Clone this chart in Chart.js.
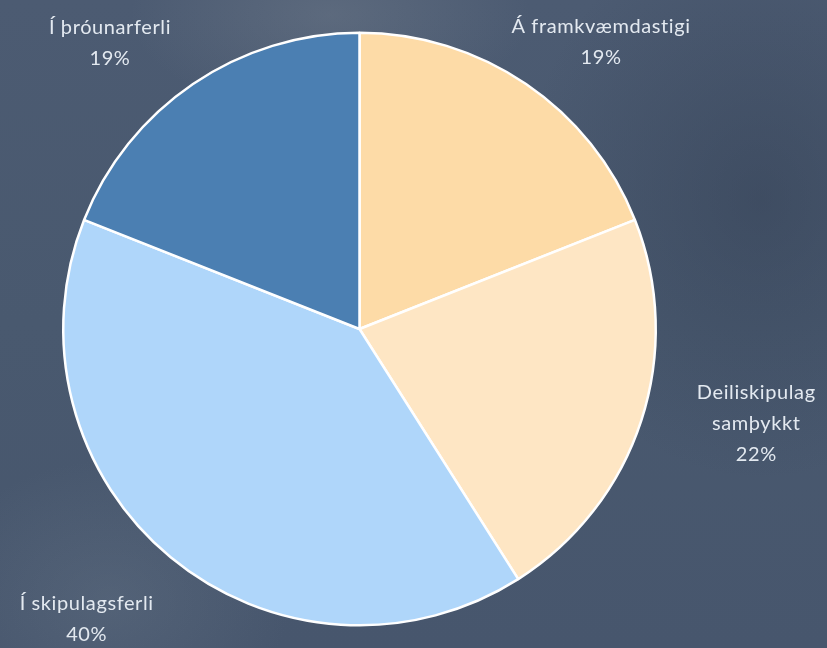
<!DOCTYPE html>
<html>
<head>
<meta charset="utf-8">
<script src="https://cdn.jsdelivr.net/npm/chart.js@4"></script>
<style>
  html, body { margin: 0; padding: 0; }
  body {
    width: 827px; height: 648px; overflow: hidden;
    background:
      radial-gradient(ellipse 200px 100px at 330px 15px, rgba(130,140,152,0.3), rgba(130,140,152,0) 100%),
      radial-gradient(ellipse 180px 140px at 110px 600px, rgba(110,125,142,0.3), rgba(110,125,142,0) 100%),
      radial-gradient(ellipse 240px 280px at 760px 200px, rgba(45,57,77,0.4), rgba(45,57,77,0) 100%),
      linear-gradient(180deg, #4c5b72 0%, #49596f 50%, #47566d 100%);
  }
  #wrap { position: absolute; left: 0; top: 0; width: 827px; height: 648px; }
</style>
</head>
<body>
<div id="wrap"><canvas id="pie_canvas"></canvas></div>
<script>
const labels = ['Á framkvæmdastigi', 'Deiliskipulag samþykkt', 'Í skipulagsferli', 'Í þróunarferli'];
const labelLines = [['Á framkvæmdastigi'], ['Deiliskipulag', 'samþykkt'], ['Í skipulagsferli'], ['Í þróunarferli']];
const values = [19, 22, 40, 19];
const pctLabels = ['19%', '22%', '40%', '19%'];
const colors = ['#fddba7', '#fee6c4', '#afd6fa', '#4b7fb2'];

// label offset from the outer mid point of each slice
const labelOffsets = [[75, -42], [115, 3], [-84, 62], [-83, -41]];

const outsideLabels = {
  id: 'outsideLabels',
  afterDraw(chart) {
    const ctx = chart.ctx;
    const meta = chart.getDatasetMeta(0);
    ctx.save();
    ctx.font = "20px Lato, 'Open Sans', sans-serif";
    ctx.letterSpacing = '0.6px';
    ctx.fillStyle = '#e3e9f0';
    ctx.textAlign = 'center';
    ctx.textBaseline = 'middle';
    const lh = 31;
    meta.data.forEach((arc, i) => {
      const mid = (arc.startAngle + arc.endAngle) / 2;
      const px = arc.x + Math.cos(mid) * arc.outerRadius + labelOffsets[i][0];
      const py = arc.y + Math.sin(mid) * arc.outerRadius + labelOffsets[i][1];
      const lines = labelLines[i].concat([pctLabels[i]]);
      const top = py - (lines.length - 1) * lh / 2;
      lines.forEach((t, k) => ctx.fillText(t, px, top + k * lh));
    });
    ctx.restore();
  }
};

new Chart(document.getElementById('pie_canvas'), {
  type: 'pie',
  data: {
    labels: labels,
    datasets: [{
      data: values,
      backgroundColor: colors,
      borderColor: '#ffffff',
      borderWidth: 2.5
    }]
  },
  options: {
    responsive: true,
    maintainAspectRatio: false,
    animation: false,
    layout: { padding: { left: 62, right: 170, top: 31, bottom: 21 } },
    plugins: {
      legend: { display: false },
      tooltip: { enabled: false }
    }
  },
  plugins: [outsideLabels]
});
</script>
</body>
</html>
